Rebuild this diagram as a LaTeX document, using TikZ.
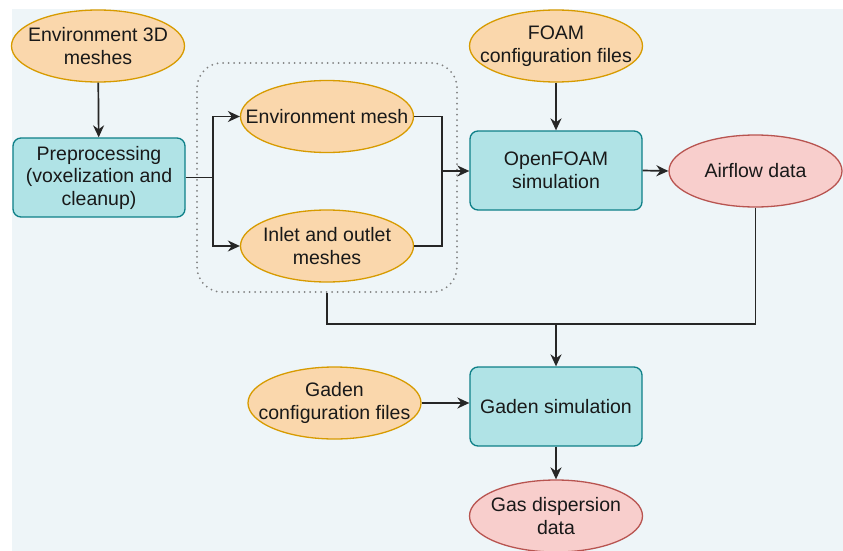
\documentclass[tikz,border=0pt]{standalone}
\usepackage{fontspec}
\setmainfont{Liberation Sans}
\usetikzlibrary{arrows.meta,shapes.geometric}
\definecolor{bgcol}{HTML}{EEF5F8}
\definecolor{orfill}{HTML}{FAD7AC}
\definecolor{ordraw}{HTML}{D79B00}
\definecolor{tlfill}{HTML}{B0E3E6}
\definecolor{tldraw}{HTML}{0E8088}
\definecolor{rdfill}{HTML}{F8CECC}
\definecolor{rddraw}{HTML}{B85450}
\begin{document}
\begin{tikzpicture}[x=1pt,y=-1pt,
    font=\fontsize{19.5}{22.5}\selectfont, text=black!90,
    blob/.style={ellipse,draw,line width=1.3pt,align=center,inner xsep=-22pt,inner ysep=0pt,
      minimum width=173pt,minimum height=72pt},
    infile/.style={blob,fill=orfill,draw=ordraw},
    result/.style={blob,fill=rdfill,draw=rddraw},
    stage/.style={rectangle,rounded corners=8pt,draw=tldraw,fill=tlfill,line width=1.3pt,
      align=center,minimum width=172pt,minimum height=79pt,inner sep=2pt},
    link/.style={line width=1.7pt,black!85},
    arr/.style={link,-{Stealth[length=12pt,width=11pt]}}]
  \useasboundingbox (0,0) rectangle (843,551);
  \fill[bgcol] (12,9) rectangle (843,551);
  \node[draw=black!50,line width=2pt,dash pattern=on 0pt off 5.5pt,line cap=round,
    rounded corners=25pt,minimum width=260pt,minimum height=229pt] (grp) at (327,177.5) {};
  \node[infile] (env3d) at (98,46) {Environment 3D\\meshes};
  \node[stage] (prep) at (99,177.5) {Preprocessing\\(voxelization and\\cleanup)};
  \node[infile] (envmesh) at (327,116.5) {Environment mesh};
  \node[infile] (inlet) at (327,246) {Inlet and outlet\\meshes};
  \node[infile] (foamcfg) at (556,46) {FOAM\\configuration files};
  \node[stage] (foam) at (556,170.5) {OpenFOAM\\simulation};
  \node[result] (airflow) at (755.5,171) {Airflow data};
  \node[infile] (gadencfg) at (334.5,403) {Gaden\\configuration files};
  \node[stage] (gaden) at (556,406.5) {Gaden simulation};
  \node[result] (gas) at (556,516) {Gas dispersion\\data};
  \coordinate (split) at (213,177.5);
  \coordinate (join) at (442,171);
  \coordinate (merge) at (556,324);
  \draw[arr] (env3d) -- (prep);
  \draw[link] (prep.east) -- (split);
  \draw[arr] (split) |- (envmesh.west);
  \draw[arr] (split) |- (inlet.west);
  \draw[link] (envmesh.east) -| (join);
  \draw[link] (inlet.east) -| (join);
  \draw[arr] (join) -- (join -| foam.west);
  \draw[arr] (foamcfg) -- (foam);
  \draw[arr] (foam.east) -- (airflow.west);
  \draw[link] (airflow.south) |- (merge);
  \draw[link] (grp.south) |- (merge);
  \draw[arr] (merge) -- (gaden.north);
  \draw[arr] (gadencfg.east) -- (gadencfg.east -| gaden.west);
  \draw[arr] (gaden) -- (gas);
\end{tikzpicture}
\end{document}
